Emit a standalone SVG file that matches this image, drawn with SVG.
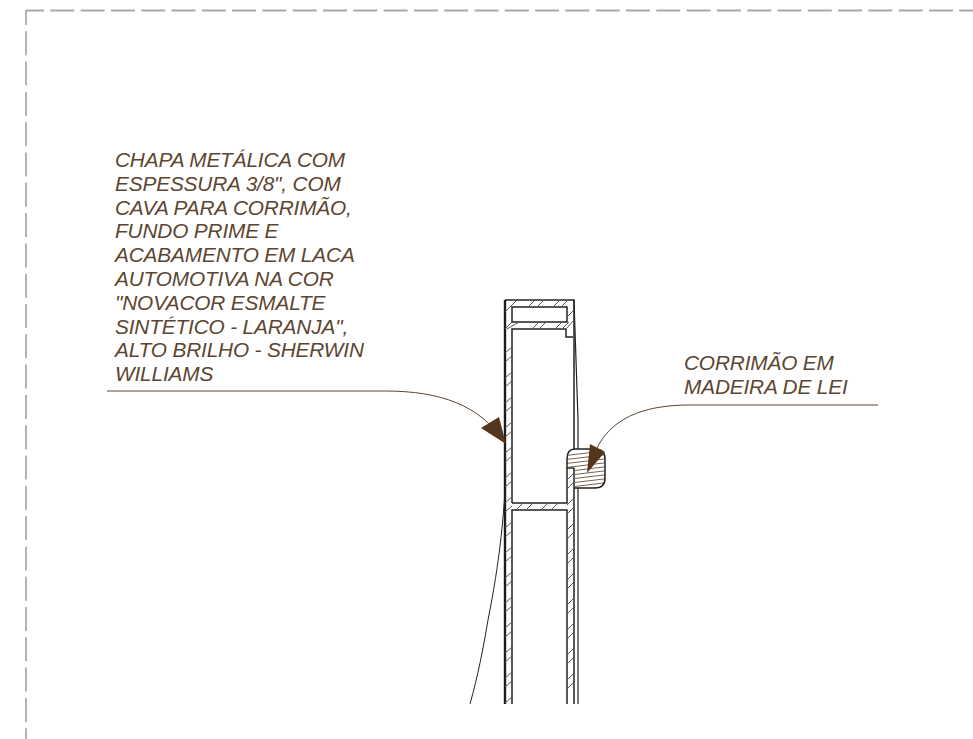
<svg xmlns="http://www.w3.org/2000/svg" width="973" height="739" viewBox="0 0 973 739">
<defs>
<style>
.frame{fill:none;stroke:#aaaaaa;stroke-width:1.8;stroke-dasharray:24 6.3}
.w{fill:none;stroke:#222;stroke-width:1.5}
.wt{fill:none;stroke:#1c1c1c;stroke-width:2.4}
.h{fill:none;stroke:#555;stroke-width:1}
.r{fill:none;stroke:#7a6350;stroke-width:1}
.l{fill:none;stroke:#5c4631;stroke-width:1}
.a{fill:#55351c}
text{font-family:"Liberation Sans",Arial,sans-serif;font-style:italic;font-size:20.8px;fill:#5c4631;letter-spacing:-.15px}
</style>
<clipPath id="railClip"><path d="M575 449H595Q605 449 605 459V478Q605 488 595 488H574V468H567V459Q567 449 575 449Z"/></clipPath>
</defs>
<rect width="973" height="739" fill="#fff"/>
<g id="frame">
<path class="frame" stroke-dashoffset="6" d="M26 10.500H973"/>
<path class="frame" stroke-dashoffset="9" d="M26 10V739"/>
</g>
<g id="section">
<path class="wt" d="M505 704V300"/>
<path class="w" d="M505 300H574V449M574 468V704"/>
<path class="w" d="M512 704V510H567V704"/>
<path class="w" d="M512 503V329H566V337H573"/>
<path class="w" d="M512 503H567V468H574"/>
<path class="w" d="M512 307H567V322H512Z"/>
<path d="M574 300L578 420V449M578 488V704" fill="none" stroke="#222" stroke-width="1.200"/>
<path class="h" d="M505 312L517 300M528 307L535 300M537 307L544 300M553 307L560 300M561 307L568 300M567 317L574 310M567 328L574 320M505 329L512 322M507 329L519 322M532 329L539 322M539 329L546 322M555 329L562 322M562 329L569 322
M505 353L512 347M505 362L512 356M505 378L512 372M505 387L512 381M505 403L512 397M505 412L512 406M505 428L512 422M505 437L512 431M505 453L512 447M505 462L512 456M505 478L512 472M505 487L512 481M505 503L512 497M505 512L512 506M505 528L512 522M505 537L512 531M505 553L512 547M505 562L512 556M505 578L512 572M505 587L512 581M505 603L512 597M505 612L512 606M505 628L512 622M505 637L512 631M505 653L512 647M505 662L512 656M505 678L512 672M505 687L512 681M505 703L512 697
M516 510L523 503M526 510L533 503M541 510L548 503M551 510L558 503M567 480L574 473M567 489L574 482M567 505L574 498M567 514L574 507M567 530L574 523M567 539L574 532M567 555L574 548M567 564L574 557M567 580L574 573M567 589L574 582M567 605L574 598M567 614L574 607M567 630L574 623M567 639L574 632M567 655L574 648M567 664L574 657M567 680L574 673M567 689L574 682"/>
<path clip-path="url(#railClip)" class="r" d="M562 456L612 450M562 460L612 454M562 464L612 458M562 468L612 462M562 472L612 466M562 476L612 470M562 480L612 474M562 484L612 478M562 488L612 482M562 492L612 486"/>
<path d="M574 488H595Q605 488 605 478V459Q605 449 595 449H575Q567 449 567 459V468" fill="none" stroke="#222" stroke-width="1.500"/>
</g>
<g id="connectors">
<path class="l" d="M107 391H385C440 391 480 405 504 442"/>
<path class="a" d="M481 428L499 417L506 444Z"/>
<path class="l" d="M878 405H690C640 405 610 420 596 450"/>
<path class="a" d="M590 444L605 452L587 473Z"/>
<path d="M505 492C503 520 500 560 488 620C483 650 478 675 470 704" fill="none" stroke="#222" stroke-width="1"/>
</g>
<g id="label-chapa">
<text x="115" y="167">CHAPA METÁLICA COM</text>
<text x="115" y="190.800">ESPESSURA 3/8", COM</text>
<text x="115" y="214.600">CAVA PARA CORRIMÃO,</text>
<text x="115" y="238.400">FUNDO PRIME E</text>
<text x="115" y="262.200">ACABAMENTO EM LACA</text>
<text x="115" y="286">AUTOMOTIVA NA COR</text>
<text x="115" y="309.800">"NOVACOR ESMALTE</text>
<text x="115" y="333.600">SINTÉTICO - LARANJA",</text>
<text x="115" y="357.400">ALTO BRILHO - SHERWIN</text>
<text x="115" y="381.200">WILLIAMS</text>
</g>
<g id="label-corrimao">
<text x="684" y="370">CORRIMÃO EM</text>
<text x="684" y="394">MADEIRA DE LEI</text>
</g>
</svg>
